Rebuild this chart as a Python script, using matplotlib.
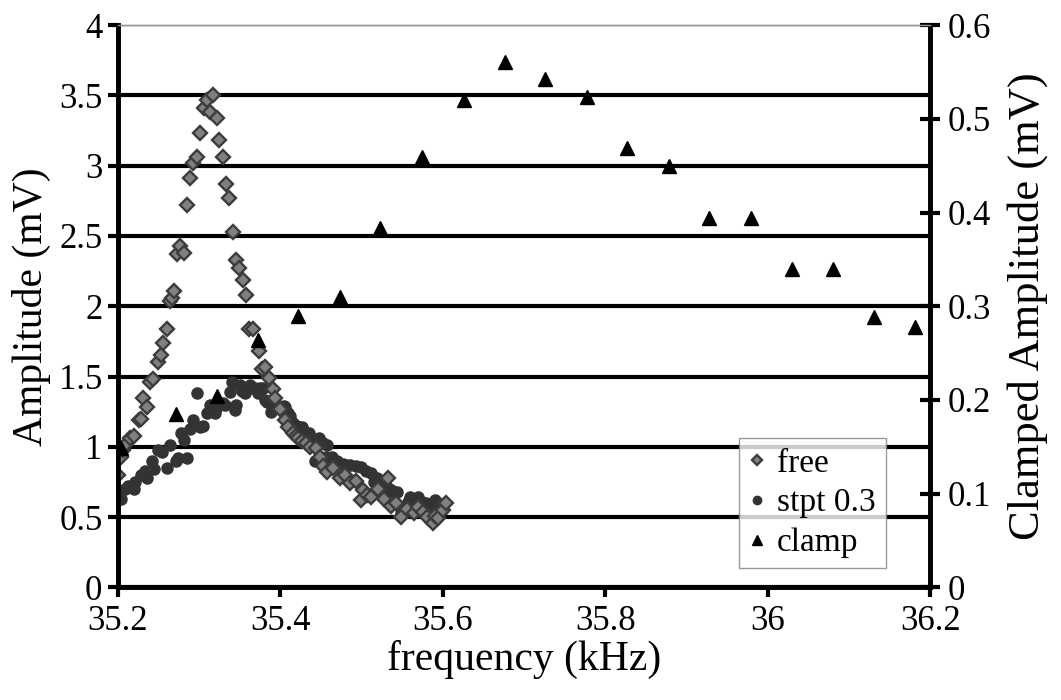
import matplotlib
matplotlib.use("Agg")
import matplotlib.pyplot as plt

plt.rcParams['font.family'] = ['Liberation Serif', 'DejaVu Serif']

# free (mV)
free_f = [35.200, 35.204, 35.206, 35.210, 35.215, 35.220, 35.226, 35.228, 35.231, 35.236,
          35.240, 35.243, 35.249, 35.253, 35.256, 35.260, 35.264, 35.267, 35.269, 35.273,
          35.277, 35.281, 35.285, 35.289, 35.293, 35.298, 35.301, 35.306, 35.310, 35.314,
          35.317, 35.322, 35.325, 35.330, 35.333, 35.337, 35.342, 35.346, 35.349, 35.354,
          35.358, 35.362, 35.367, 35.374, 35.378, 35.381, 35.386, 35.391, 35.394, 35.400,
          35.406, 35.410, 35.415, 35.419, 35.422, 35.427, 35.431, 35.437, 35.444, 35.449,
          35.452, 35.458, 35.465, 35.474, 35.480, 35.486, 35.493, 35.499, 35.502, 35.507,
          35.512, 35.520, 35.527, 35.533, 35.536, 35.542, 35.548, 35.556, 35.564, 35.570,
          35.575, 35.581, 35.588, 35.590, 35.594, 35.600, 35.604]
free_a = [0.80, 0.93, 0.975, 1.02, 1.06, 1.08, 1.19, 1.20, 1.345, 1.28,
          1.46, 1.48, 1.60, 1.65, 1.74, 1.84, 2.04, 2.06, 2.11, 2.37,
          2.43, 2.38, 2.72, 2.91, 3.02, 3.06, 3.23, 3.41, 3.47, 3.38,
          3.50, 3.34, 3.18, 3.06, 2.87, 2.77, 2.53, 2.33, 2.27, 2.19,
          2.08, 1.84, 1.84, 1.68, 1.55, 1.57, 1.49, 1.41, 1.345, 1.27,
          1.19, 1.14, 1.10, 1.08, 1.06, 1.04, 1.03, 1.00, 0.99, 0.93,
          0.86, 0.82, 0.85, 0.78, 0.80, 0.74, 0.76, 0.62, 0.69, 0.66,
          0.64, 0.70, 0.63, 0.78, 0.58, 0.60, 0.50, 0.56, 0.53, 0.57,
          0.535, 0.50, 0.455, 0.51, 0.49, 0.55, 0.60]

# stpt 0.3 (mV)
stpt_f = [35.204, 35.209, 35.212, 35.220, 35.221, 35.228, 35.233, 35.236, 35.242, 35.244,
          35.249, 35.254, 35.260, 35.264, 35.272, 35.274, 35.278, 35.281, 35.285, 35.289,
          35.293, 35.298, 35.301, 35.305, 35.310, 35.314, 35.320, 35.322, 35.330, 35.332,
          35.338, 35.341, 35.344, 35.346, 35.351, 35.353, 35.357, 35.363, 35.365, 35.369,
          35.373, 35.375, 35.379, 35.381, 35.384, 35.388, 35.391, 35.394, 35.398, 35.404,
          35.406, 35.409, 35.412, 35.415, 35.421, 35.427, 35.428, 35.433, 35.435, 35.441,
          35.447, 35.452, 35.458, 35.443, 35.456, 35.464, 35.470, 35.477, 35.481, 35.486,
          35.493, 35.499, 35.505, 35.511, 35.515, 35.519, 35.523, 35.528, 35.532, 35.536,
          35.540, 35.544, 35.548, 35.552, 35.557, 35.560, 35.565, 35.570, 35.574, 35.579,
          35.585, 35.590, 35.594, 35.600]
stpt_a = [0.63, 0.70, 0.72, 0.70, 0.75, 0.80, 0.83, 0.78, 0.90, 0.84,
          0.975, 0.96, 0.85, 1.01, 0.90, 0.92, 1.10, 1.05, 0.92, 1.13,
          1.19, 1.38, 1.14, 1.15, 1.24, 1.30, 1.24, 1.28, 1.31, 1.30,
          1.39, 1.46, 1.26, 1.30, 1.44, 1.40, 1.38, 1.44, 1.42, 1.42,
          1.38, 1.42, 1.42, 1.33, 1.32, 1.245, 1.31, 1.30, 1.29, 1.29,
          1.28, 1.24, 1.22, 1.17, 1.15, 1.14, 1.12, 1.08, 1.10, 1.05,
          1.06, 1.025, 1.01, 0.90, 0.925, 0.925, 0.90, 0.88, 0.87, 0.87,
          0.86, 0.855, 0.83, 0.81, 0.75, 0.78, 0.73, 0.72, 0.71, 0.69,
          0.67, 0.68, 0.53, 0.57, 0.605, 0.64, 0.62, 0.64, 0.605, 0.60,
          0.57, 0.62, 0.60, 0.56]

# clamp (mV, right axis)
clamp_f = [35.204, 35.272, 35.322, 35.373, 35.422, 35.473, 35.523, 35.574, 35.626, 35.677,
           35.726, 35.777, 35.827, 35.878, 35.928, 35.979, 36.030, 36.080, 36.131, 36.181]
clamp_a = [0.149, 0.185, 0.204, 0.264, 0.290, 0.310, 0.384, 0.459, 0.520, 0.561,
           0.543, 0.523, 0.469, 0.450, 0.394, 0.394, 0.340, 0.340, 0.288, 0.278]

xticks = [35.2, 35.4, 35.6, 35.8, 36, 36.2]
xtick_labels = ['35.2', '35.4', '35.6', '35.8', '36', '36.2']
yticks = [0, 0.5, 1, 1.5, 2, 2.5, 3, 3.5, 4]
ytick_labels = ['0', '0.5', '1', '1.5', '2', '2.5', '3', '3.5', '4']
y2ticks = [0, 0.1, 0.2, 0.3, 0.4, 0.5, 0.6]
y2tick_labels = ['0', '0.1', '0.2', '0.3', '0.4', '0.5', '0.6']

fs = 25

fig = plt.figure(figsize=(10.61, 7.0), dpi=100)
ax = fig.add_axes([0.111, 0.161, 0.766, 0.803])
ax2 = ax.twinx()

s_h, = ax.plot(stpt_f, stpt_a, 'o', ms=8, color='#333333', mec='#333333', zorder=3)
f_h, = ax.plot(free_f, free_a, 'D', ms=7, mfc='#808080', mec='#3c3c3c', mew=1.7, zorder=4)
c_h, = ax2.plot(clamp_f, clamp_a, '^', ms=9.5, color='black', zorder=3)

ax.set_xlim(35.2, 36.2)
ax.set_ylim(0, 4)
ax2.set_ylim(0, 0.6)

ax.set_xticks(xticks)
ax.set_xticklabels(xtick_labels)
ax.set_yticks(yticks)
ax.set_yticklabels(ytick_labels)
ax2.set_yticks(y2ticks)
ax2.set_yticklabels(y2tick_labels)

ax.yaxis.grid(True, color='black', lw=3)
ax.set_axisbelow(True)
ax.get_ygridlines()[-1].set_color('#999999')
ax.get_ygridlines()[-1].set_linewidth(1)

for a in (ax, ax2):
    for side in ('left', 'right', 'bottom'):
        a.spines[side].set_linewidth(3.3)
    a.spines['top'].set_linewidth(1)
    a.spines['top'].set_color('#999999')

ax.tick_params(axis='both', direction='out', length=7, width=3, labelsize=fs)
ax.tick_params(axis='x', pad=6)
ax.tick_params(axis='y', pad=4)
ax2.tick_params(axis='y', direction='inout', length=14, width=3, labelsize=fs, pad=5)

ax.set_xlabel('frequency (kHz)', fontsize=30, labelpad=1)
ax.set_ylabel('Amplitude (mV)', fontsize=30, labelpad=6)
ax2.set_ylabel('Clamped Amplitude (mV)', fontsize=32, labelpad=12)

leg = ax2.legend([f_h, s_h, c_h], ['free', 'stpt 0.3', 'clamp'],
                 loc='lower left', bbox_to_anchor=(0.764, 0.034), borderaxespad=0,
                 fontsize=24, frameon=True, fancybox=False, handlelength=0.5,
                 handletextpad=0.35, labelspacing=0.28, borderpad=0.3,
                 markerscale=0.75)
leg.get_frame().set_edgecolor('#808080')
leg.get_frame().set_linewidth(1)

fig.savefig('out.png', dpi=100)
